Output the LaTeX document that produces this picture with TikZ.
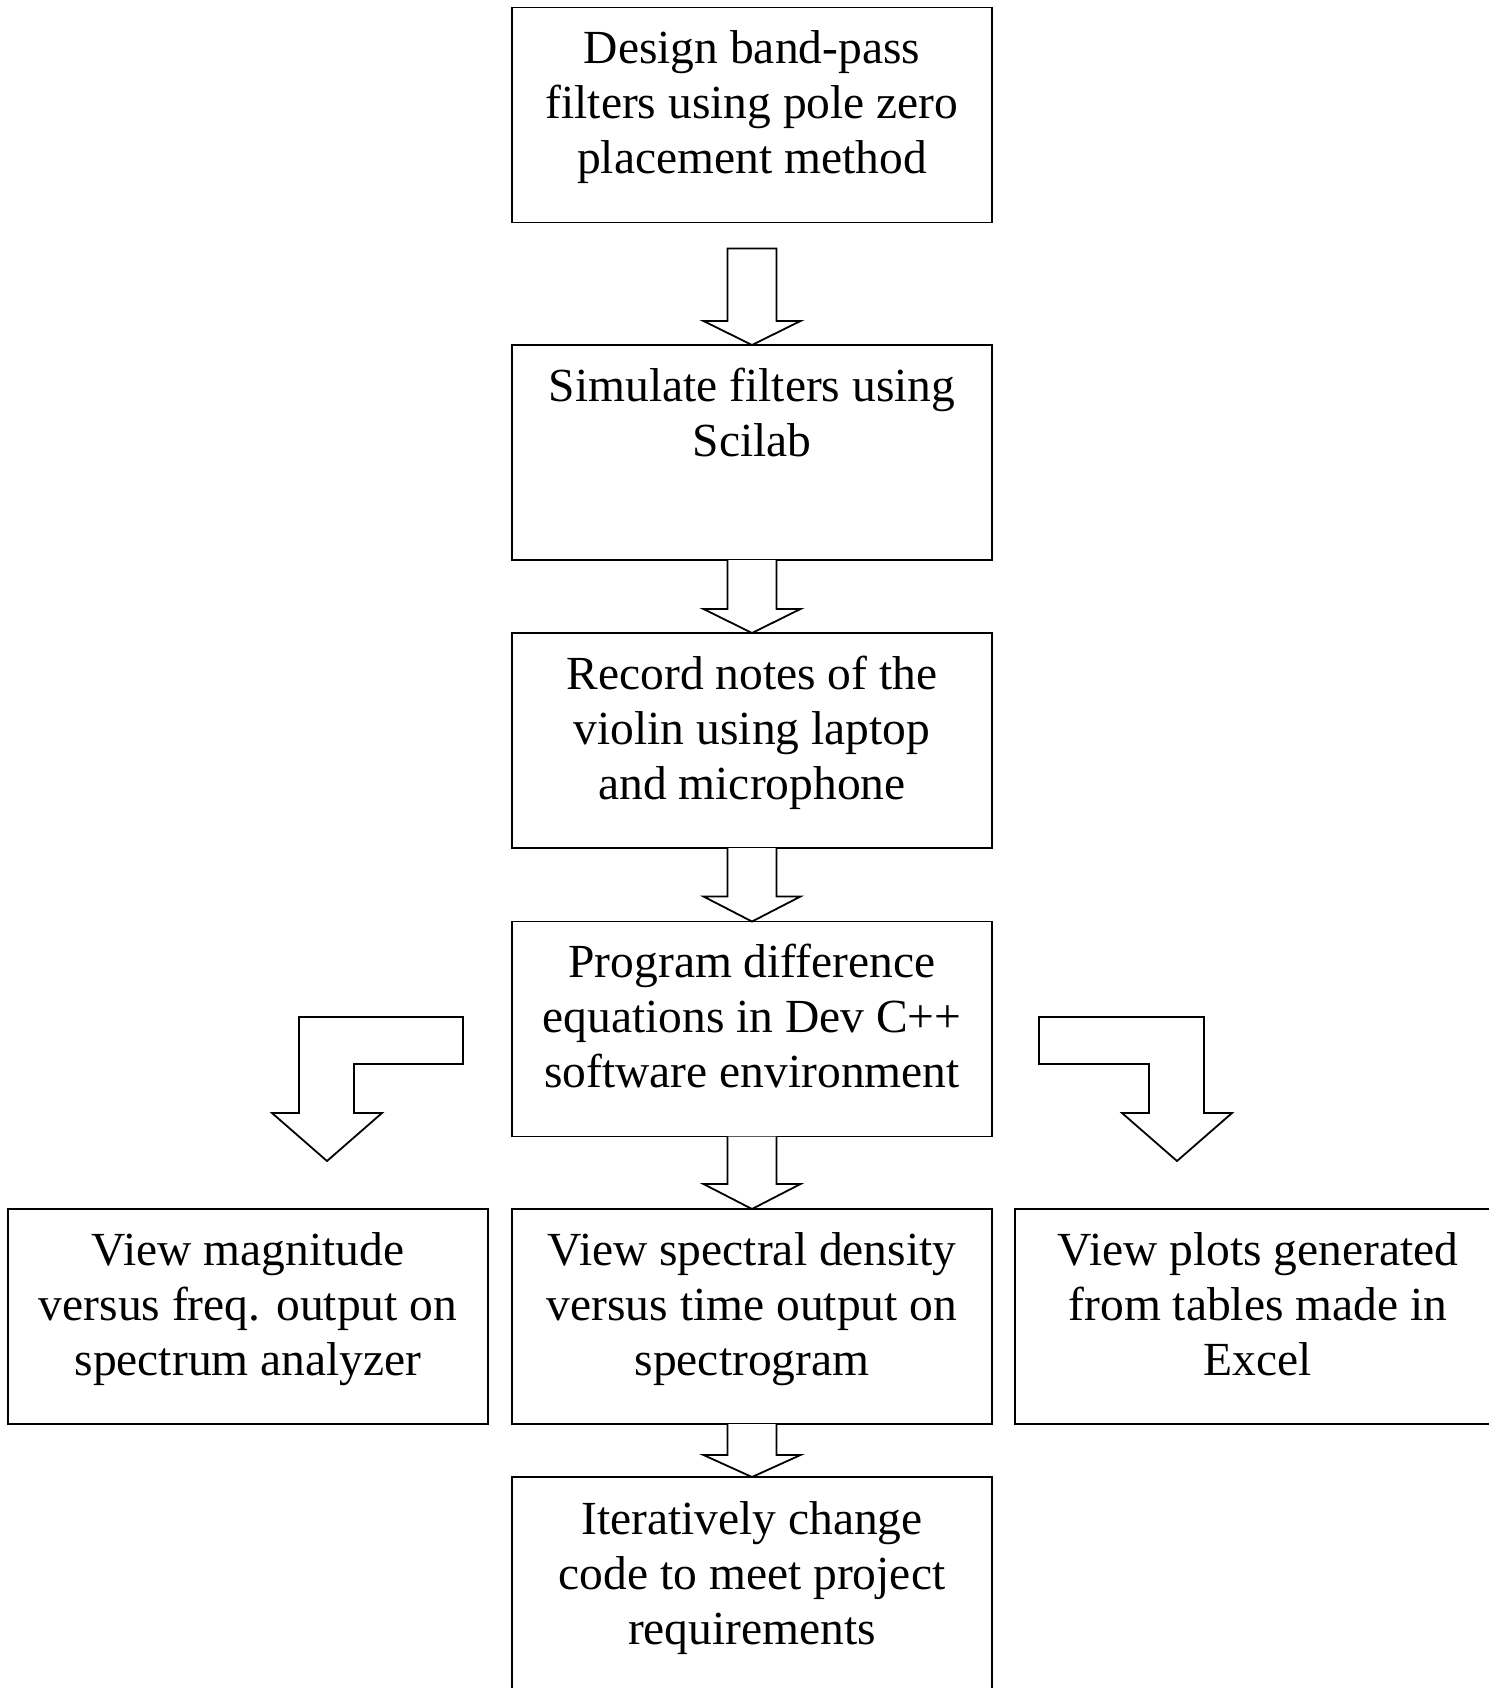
\documentclass[tikz,border=0pt]{standalone}
\usepackage{fontspec}
\setmainfont{Liberation Serif}
\usetikzlibrary{calc}
\begin{document}
\begin{tikzpicture}[x=0.5pt,y=-0.5pt,
  box/.style={draw, line width=0.9pt, rectangle, minimum width=240pt, minimum height=107.5pt, inner sep=0pt, outer sep=0pt},
  txt/.style={anchor=base, inner sep=0pt, font=\fontsize{23.75}{27.5}\selectfont},
  barrow/.style={draw, line width=0.9pt, line join=miter, fill=white}]
\useasboundingbox (0,0) rectangle (1489,1688);
% boxes
\node[box] (b1) at (752,115) {};
\node[box] (b2) at (752,452.5) {};
\node[box] (b3) at (752,740.5) {};
\node[box] (b4) at (752,1029) {};
\node[box] (bl) at (248,1316.5) {};
\node[box] (bm) at (752,1316.5) {};
\node[box] (br) at (1255,1316.5) {};
\node[box] (b6) at (752,1584.5) {};
% texts
\node[txt] (t1) at ($(b1.north)+(0,56)$) {\begin{tabular}[t]{@{}c@{}}Design band-pass\\filters using pole zero\\placement method\end{tabular}};
\node[txt] (t2) at ($(b2.north)+(0,56)$) {\begin{tabular}[t]{@{}c@{}}Simulate filters using\\Scilab\end{tabular}};
\node[txt] (t3) at ($(b3.north)+(0,56)$) {\begin{tabular}[t]{@{}c@{}}Record notes of the\\violin using laptop\\and microphone\end{tabular}};
\node[txt] (t4) at ($(b4.north)+(0,56)$) {\begin{tabular}[t]{@{}c@{}}Program difference\\equations in Dev C++\\software environment\end{tabular}};
\node[txt] (tl) at ($(bl.north)+(0,56)$) {\begin{tabular}[t]{@{}c@{}}View magnitude\\versus freq. output on\\spectrum analyzer\end{tabular}};
\node[txt] (tm) at ($(bm.north)+(0,56)$) {\begin{tabular}[t]{@{}c@{}}View spectral density\\versus time output on\\spectrogram\end{tabular}};
\node[txt] (tr) at ($(br.north)+(3,56)$) {\begin{tabular}[t]{@{}c@{}}View plots generated\\from tables made in\\Excel\end{tabular}};
\node[txt] (t6) at ($(b6.north)+(0,57)$) {\begin{tabular}[t]{@{}c@{}}Iteratively change\\code to meet project\\requirements\end{tabular}};
% straight block arrows
\draw[barrow] ($(b1.south)+(-24.5,26)$) -- ($(b2.north)+(-24.5,-24)$) -- ($(b2.north)+(-48.5,-24)$) -- (b2.north) -- ($(b2.north)+(48.5,-24)$) -- ($(b2.north)+(24.5,-24)$) -- ($(b1.south)+(24.5,26)$) -- cycle;
\draw[barrow] ($(b2.south)+(-24.5,0)$) -- ($(b3.north)+(-24.5,-24)$) -- ($(b3.north)+(-48.5,-24)$) -- (b3.north) -- ($(b3.north)+(48.5,-24)$) -- ($(b3.north)+(24.5,-24)$) -- ($(b2.south)+(24.5,0)$);
\draw[barrow] ($(b3.south)+(-24.5,0)$) -- ($(b4.north)+(-24.5,-25)$) -- ($(b4.north)+(-48.5,-25)$) -- (b4.north) -- ($(b4.north)+(48.5,-25)$) -- ($(b4.north)+(24.5,-25)$) -- ($(b3.south)+(24.5,0)$);
\draw[barrow] ($(b4.south)+(-24.5,0)$) -- ($(bm.north)+(-24.5,-25)$) -- ($(bm.north)+(-48.5,-25)$) -- (bm.north) -- ($(bm.north)+(48.5,-25)$) -- ($(bm.north)+(24.5,-25)$) -- ($(b4.south)+(24.5,0)$);
\draw[barrow] ($(bm.south)+(-24.5,0)$) -- ($(b6.north)+(-24.5,-22)$) -- ($(b6.north)+(-48.5,-22)$) -- (b6.north) -- ($(b6.north)+(48.5,-22)$) -- ($(b6.north)+(24.5,-22)$) -- ($(bm.south)+(24.5,0)$);
% bent block arrows
\draw[barrow] (463,1017) -- (299,1017) -- (299,1113) -- (272,1113) -- (327,1161) -- (382,1113) -- (354,1113) -- (354,1064) -- (463,1064) -- cycle;
\draw[barrow] (1039,1017) -- (1204,1017) -- (1204,1113) -- (1232,1113) -- (1177,1161) -- (1122,1113) -- (1149,1113) -- (1149,1064) -- (1039,1064) -- cycle;
\end{tikzpicture}
\end{document}
